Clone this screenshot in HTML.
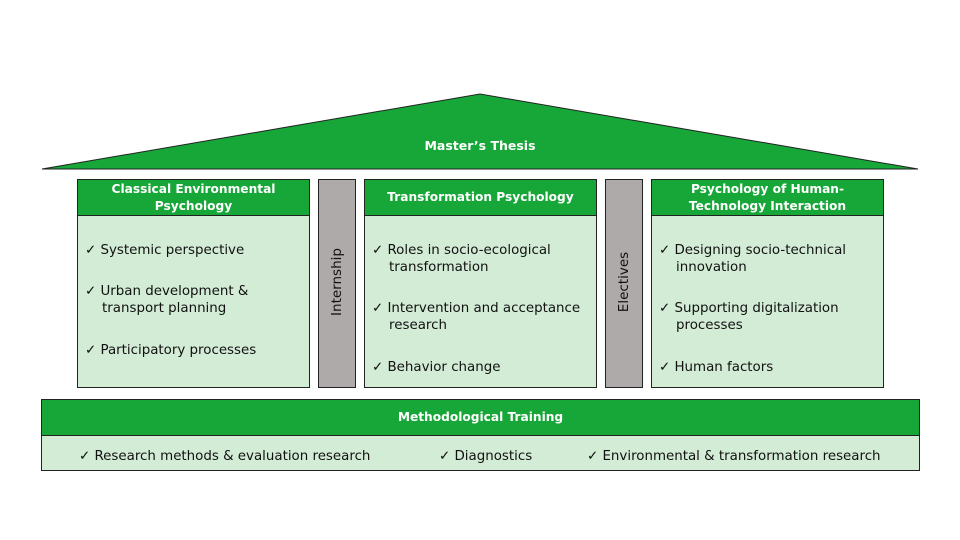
<!DOCTYPE html>
<html><head><meta charset="utf-8"><style>
body{margin:0;width:960px;height:540px;background:#fff;position:relative;font-family:"DejaVu Sans","Liberation Sans",sans-serif;overflow:hidden}
.a{position:absolute;box-sizing:border-box;border:1px solid #222}
.h{background:#17a638;color:#fff;font-weight:bold;font-size:12.2px;text-align:center;display:flex;align-items:center;justify-content:center;line-height:17px}
.b{background:#d3ecd6;color:#111;font-size:13.5px}
.g{background:#aeaaaa;}
.t{position:absolute;font-size:13.4px;color:#111;line-height:17px;white-space:nowrap}
.v{position:absolute;transform:rotate(-90deg);font-size:13.5px;color:#111;white-space:nowrap}
</style></head><body>
<svg width="960" height="540" style="position:absolute;left:0;top:0">
<polygon points="42,169 480,94 918,169" fill="#17a638" stroke="#222" stroke-width="1"/>
<text x="480" y="150" text-anchor="middle" fill="#fff" font-weight="bold" font-size="12.5" font-family="DejaVu Sans, Liberation Sans, sans-serif">Master’s Thesis</text>
</svg>
<div class="a h" style="left:77px;top:179px;width:233px;height:37px">Classical Environmental<br>Psychology</div>
<div class="a b" style="left:77px;top:215px;width:233px;height:173px"></div>
<div class="a g" style="left:318px;top:179px;width:38px;height:209px"></div>
<div class="a h" style="left:364px;top:179px;width:233px;height:37px">Transformation Psychology</div>
<div class="a b" style="left:364px;top:215px;width:233px;height:173px"></div>
<div class="a g" style="left:605px;top:179px;width:38px;height:209px"></div>
<div class="a h" style="left:651px;top:179px;width:233px;height:37px">Psychology of Human-<br>Technology Interaction</div>
<div class="a b" style="left:651px;top:215px;width:233px;height:173px"></div>
<div class="a h" style="left:41px;top:399px;width:879px;height:37px">Methodological Training</div>
<div class="a b" style="left:41px;top:435px;width:879px;height:36px"></div>

<div class="t" style="left:85px;top:242px">✓ Systemic perspective</div>
<div class="t" style="left:85px;top:283px">✓ Urban development &amp;<br>&nbsp;&nbsp;&nbsp;&nbsp;transport planning</div>
<div class="t" style="left:85px;top:342px">✓ Participatory processes</div>

<div class="t" style="left:372px;top:242px">✓ Roles in socio-ecological<br>&nbsp;&nbsp;&nbsp;&nbsp;transformation</div>
<div class="t" style="left:372px;top:300px">✓ Intervention and acceptance<br>&nbsp;&nbsp;&nbsp;&nbsp;research</div>
<div class="t" style="left:372px;top:359px">✓ Behavior change</div>

<div class="t" style="left:659px;top:242px">✓ Designing socio-technical<br>&nbsp;&nbsp;&nbsp;&nbsp;innovation</div>
<div class="t" style="left:659px;top:300px">✓ Supporting digitalization<br>&nbsp;&nbsp;&nbsp;&nbsp;processes</div>
<div class="t" style="left:659px;top:359px">✓ Human factors</div>

<div class="t" style="left:79px;top:448px">✓ Research methods &amp; evaluation research</div>
<div class="t" style="left:439px;top:448px">✓ Diagnostics</div>
<div class="t" style="left:587px;top:448px">✓ Environmental &amp; transformation research</div>

<div class="v" style="left:297px;top:274px;width:80px;text-align:center">Internship</div>
<div class="v" style="left:584px;top:274px;width:80px;text-align:center">Electives</div>
</body></html>
